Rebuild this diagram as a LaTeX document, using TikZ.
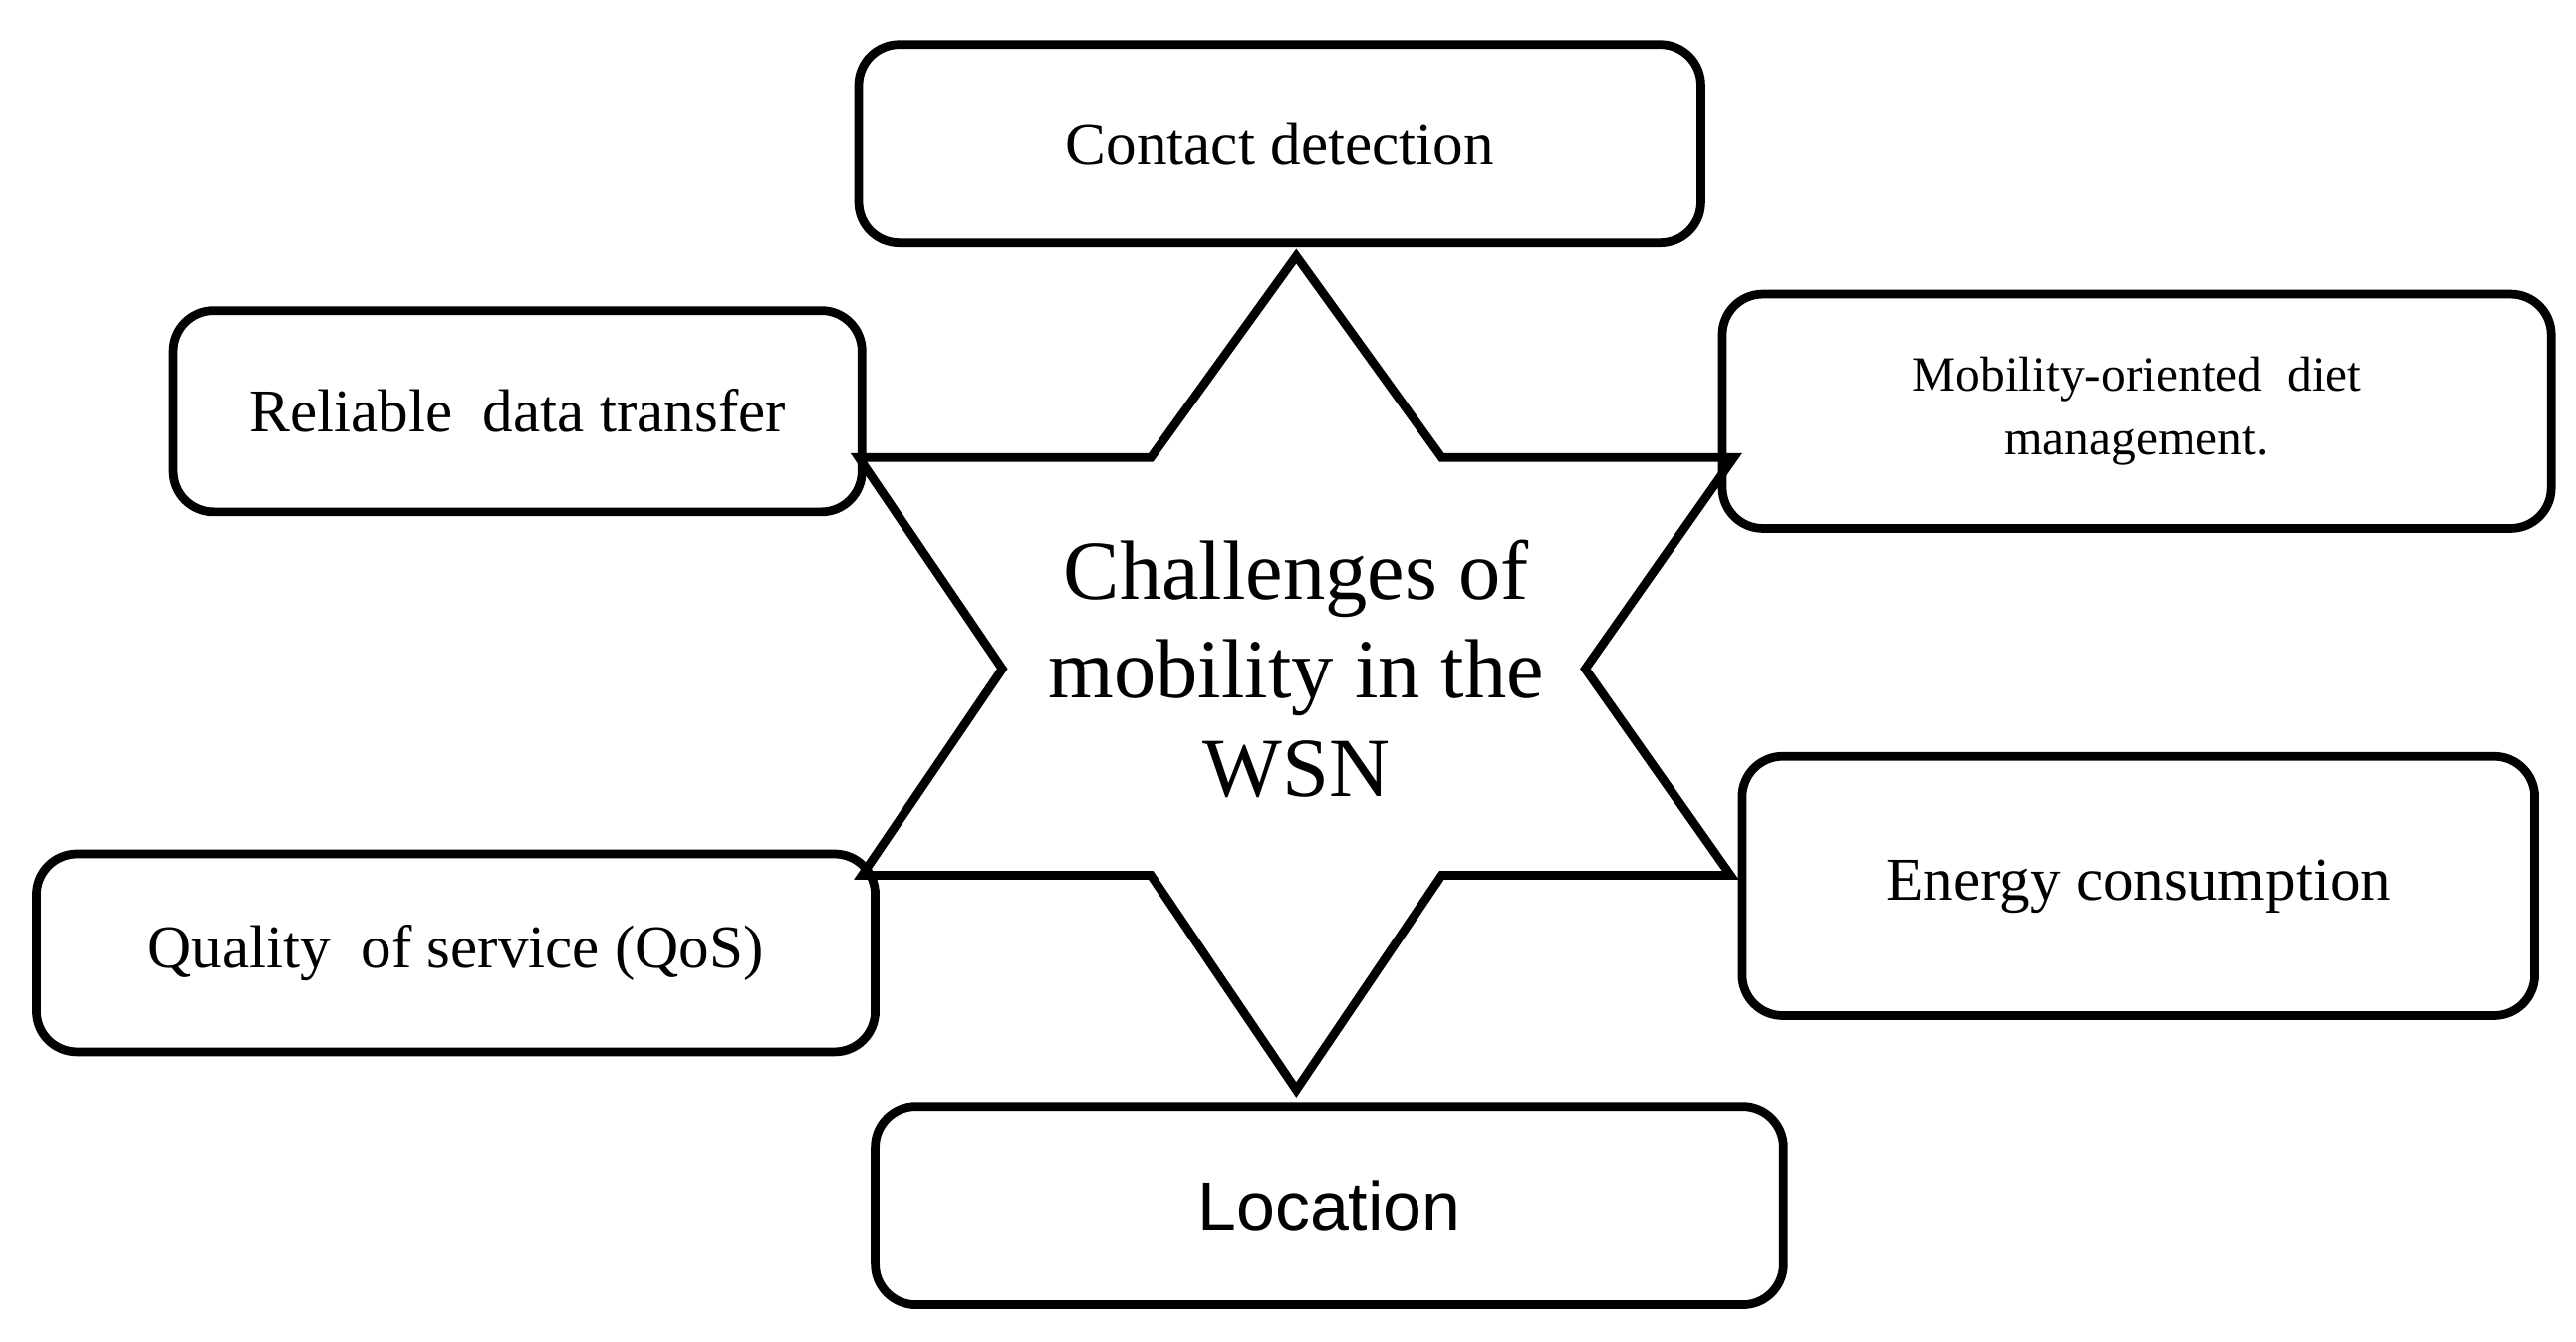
\documentclass[tikz,border=0pt]{standalone}
\usepackage{fontspec}
\setmainfont{Liberation Serif}
\newfontfamily\locfont{Liberation Sans}
\tikzset{
  topic/.style={draw, line width=1.5pt, rounded corners=7pt, align=center, font=\fontsize{10.5}{13}\selectfont}
}
\begin{document}
\begin{tikzpicture}
        \useasboundingbox (0,0) rectangle (15.6,-8.12);

        % Star in the middle
        \draw[line width=1.5pt, line join=miter] (7.85,-1.55) -- (8.73,-2.77) -- (10.5,-2.77) -- (9.6,-4.05)
            -- (10.48,-5.30) -- (8.73,-5.30) -- (7.85,-6.60) -- (6.97,-5.30) -- (5.22,-5.30)
            -- (6.07,-4.05) -- (5.20,-2.77) -- (6.97,-2.77) -- cycle;
        \node[align=center, font=\fontsize{14.5}{17}\selectfont] (centre) at (7.85,-4.05) {Challenges\ of\\ mobility in the\\ WSN};

        % Boxes around the star
        \node[topic, minimum width=5.1cm, minimum height=1.2cm] (contact) at (7.75,-0.87) {Contact detection};
        \node[topic, minimum width=4.17cm, minimum height=1.22cm] (reliable) at (3.135,-2.49) {Reliable\ \ data transfer};
        \node[topic, minimum width=5.02cm, minimum height=1.42cm, font=\fontsize{8.5}{11}\selectfont] (diet) at (12.94,-2.49) {Mobility-oriented\ \ diet\\ management.};
        \node[topic, minimum width=4.8cm, minimum height=1.57cm] (energy) at (12.95,-5.365) {Energy consumption};
        \node[topic, minimum width=5.08cm, minimum height=1.2cm] (qos) at (2.76,-5.77) {Quality\ \ of service (QoS)};
        \node[topic, minimum width=5.5cm, minimum height=1.2cm, font=\locfont\fontsize{12}{14}\selectfont] (location) at (8.05,-7.30) {Location};

\end{tikzpicture}
\end{document}
